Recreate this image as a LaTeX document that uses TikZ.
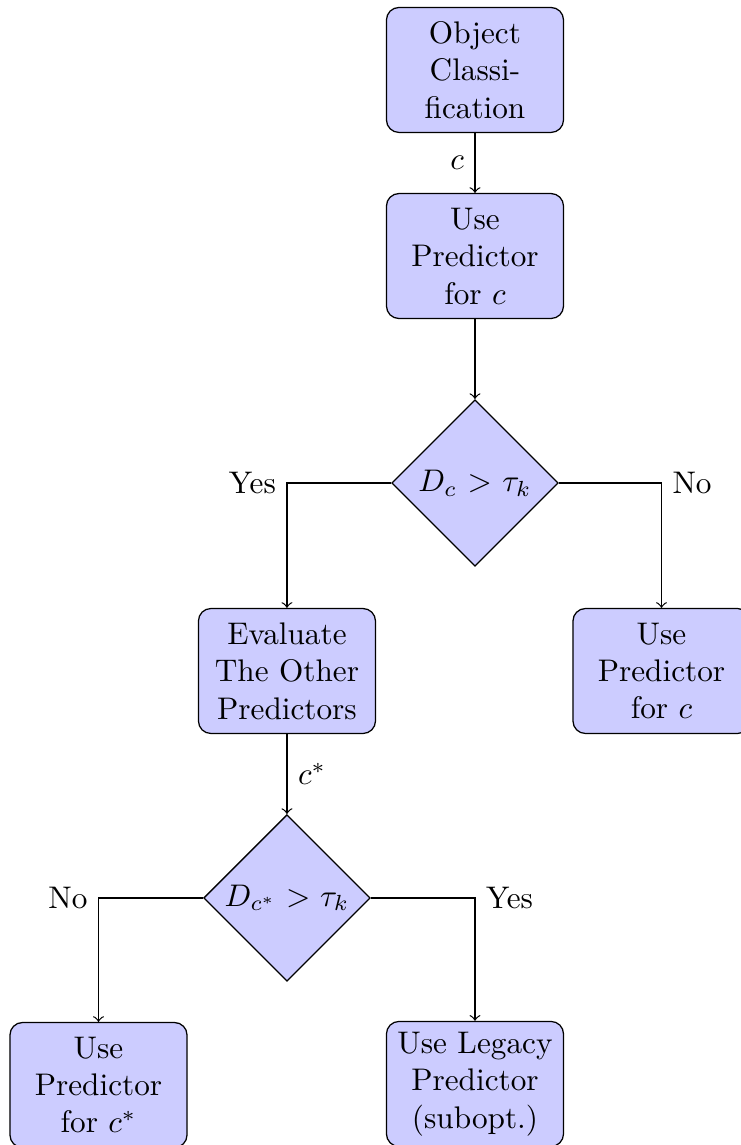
\documentclass[tikz,border=0pt]{standalone}
\usetikzlibrary{arrows,shapes.geometric}

\begin{document}
\begin{tikzpicture}[
    block/.style={rectangle, draw, fill=blue!20, text width=5em, align=center, rounded corners, minimum height=4em},
    decision/.style={diamond, draw, fill=blue!20, text width=4.5em, align=center, inner sep=0pt},
    line/.style={draw, ->}]
    \useasboundingbox (0,0) rectangle (8.324,-12.88);

    \node[block] (obj) at (5.343,-0.787) {Object Classification};
    \node[block] (use1) at (5.343,-2.880) {Use Predictor for $c$};
    \node[decision] (dec1) at (5.343,-5.433) {$D_c > \tau_k$};
    \node[block] (eval) at (3.228,-7.548) {Evaluate The Other Predictors};
    \node[block] (usec) at (7.441,-7.548) {Use Predictor for $c$};
    \node[decision] (dec2) at (3.228,-10.101) {$D_{c^*} > \tau_k$};
    \node[block] (usecs) at (1.108,-12.205) {Use Predictor for $c^*$};
    \node[block] (legacy) at (5.343,-12.193) {Use Legacy Predictor (subopt.)};

    \path[line] (obj) -- node[left] {$c$} (use1);
    \path[line] (use1) -- (dec1);
    \path[line] (dec1) -| node[left] {Yes} (eval);
    \path[line] (dec1) -| node[right] {No} (usec);
    \path[line] (eval) -- node[right] {$c^*$} (dec2);
    \path[line] (dec2) -| node[left] {No} (usecs);
    \path[line] (dec2) -| node[right] {Yes} (legacy);

\end{tikzpicture}
\end{document}
